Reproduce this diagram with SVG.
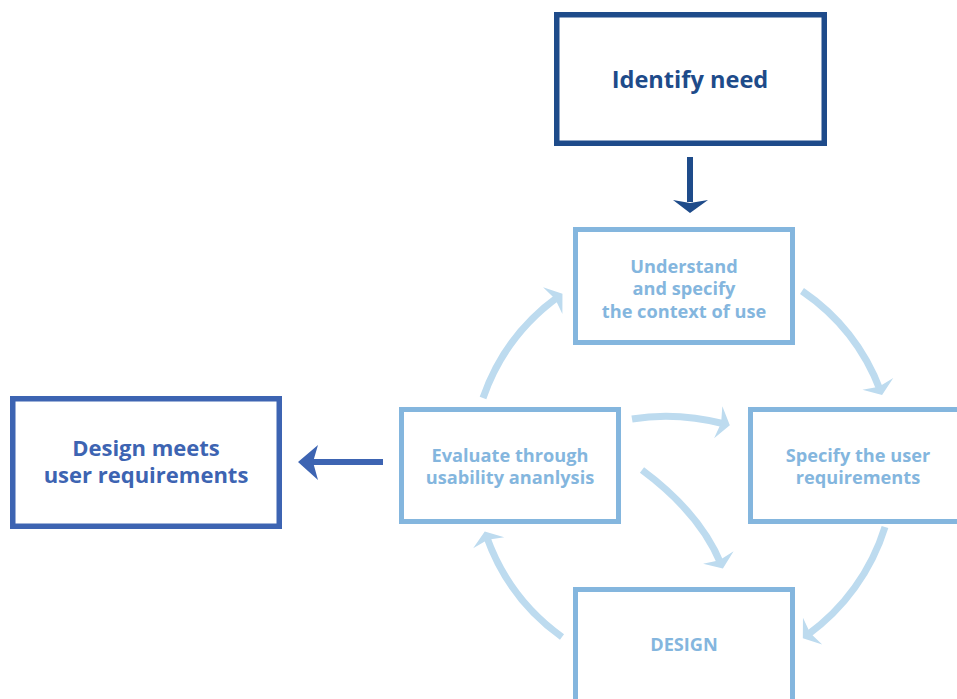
<svg xmlns="http://www.w3.org/2000/svg" width="957" height="699" viewBox="0 0 957 699">
<defs>
<style>
.dark{fill:none;stroke:#1e4b8a;stroke-width:5.5}
.mid{fill:none;stroke:#3d64b2;stroke-width:5.5}
.light{fill:none;stroke:#84b6de;stroke-width:5}
text{font-family:"Open Sans","Liberation Sans",sans-serif;font-weight:700;text-anchor:middle}
.tdark{fill:#1e4b8a;font-size:23.6px}
.tmid{fill:#3d64b2;font-size:22px}
.tlight{fill:#84b6de;font-size:18.2px}
.cyc{fill:none;stroke:#bddbef;stroke-width:7;marker-end:url(#ah)}
</style>
<marker id="ah" markerUnits="userSpaceOnUse" viewBox="-10 -20 20 40" markerWidth="20" markerHeight="40" refX="0" refY="0" orient="auto">
<path d="M5 0 L-7 -16.5 L-4 0 L-7 16.5 Z" fill="#bddbef"/>
</marker>
</defs>
<g id="identify-need">
<rect class="dark" x="556.75" y="14.75" width="267.5" height="128.5"/>
<text class="tdark" x="690" y="88">Identify need</text>
</g>
<g id="understand">
<rect class="light" x="575.5" y="229.5" width="217" height="113"/>
<text class="tlight" x="684" y="273">Understand</text>
<text class="tlight" x="684" y="295">and specify</text>
<text class="tlight" x="684" y="318">the context of use</text>
</g>
<g id="evaluate">
<rect class="light" x="401.5" y="409.5" width="217" height="112"/>
<text class="tlight" x="510" y="462">Evaluate through</text>
<text class="tlight" x="510" y="484">usability ananlysis</text>
</g>
<g id="specify">
<rect class="light" x="750.5" y="409.5" width="220" height="112"/>
<text class="tlight" x="858" y="462">Specify the user</text>
<text class="tlight" x="858" y="484">requirements</text>
</g>
<g id="design">
<rect class="light" x="575.5" y="589.5" width="217" height="120"/>
<text class="tlight" x="684" y="651">DESIGN</text>
</g>
<g id="design-meets">
<rect class="mid" x="12.75" y="398.75" width="266.5" height="127.5"/>
<text class="tmid" x="146" y="456">Design meets</text>
<text class="tmid" x="146" y="483">user requirements</text>
</g>
<g id="connectors">
<path d="M690 157 V202" stroke="#1e4b8a" stroke-width="6" fill="none"/>
<path d="M690 213 L673 200 L690 203 L708 200 Z" fill="#1e4b8a"/>
<path d="M383 462 H312" stroke="#3d64b2" stroke-width="6" fill="none"/>
<path d="M298 462 L318 445 L313 462 L318 480 Z" fill="#3d64b2"/>
<path class="cyc" d="M483 398 A210 210 0 0 1 558.4 296.6"/>
<path class="cyc" d="M802 291 A210 210 0 0 1 880.3 390.4"/>
<path class="cyc" d="M885 527 A210 210 0 0 1 806.9 635.3"/>
<path class="cyc" d="M562 637 A210 210 0 0 1 486.4 536.1"/>
<path class="cyc" d="M632 419 Q676.5 411.5 725 424"/>
<path class="cyc" d="M642 470 Q700 513 721 564"/>
</g>
</svg>
